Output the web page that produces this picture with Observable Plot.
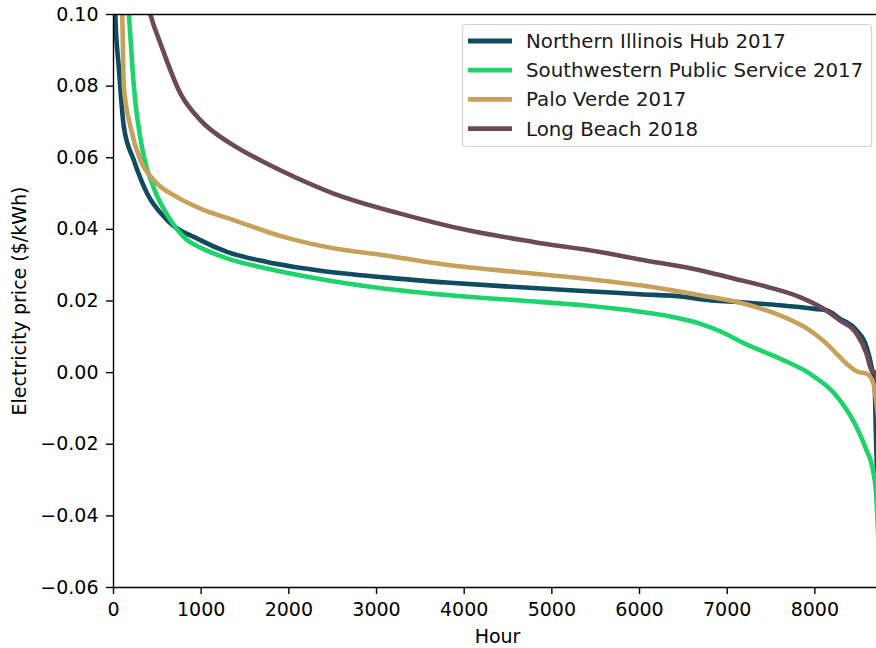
<!DOCTYPE html>
<html>
<head>
<meta charset="utf-8">
<script src="https://cdn.jsdelivr.net/npm/d3@7"></script>
<script src="https://cdn.jsdelivr.net/npm/@observablehq/plot@0.6"></script>
<style>
  html, body { margin: 0; padding: 0; background: #fff; overflow: hidden; }
  #chart { position: relative; width: 876px; height: 648px; overflow: hidden; }
  #chart svg { max-width: none !important; }
</style>
</head>
<body>
<div id="chart"></div>
<script>
// ---- Data ----
const seriesNames = ["Northern Illinois Hub 2017", "Southwestern Public Service 2017", "Palo Verde 2017", "Long Beach 2018"];
const seriesColors = ["#114b5f", "#1ed36c", "#c6a15b", "#6b4a58"];

const nihHour  = [0, 20, 60, 118, 232, 384, 612, 991, 1295, 1751, 2321, 3081, 3840, 4600, 5360, 6006, 6500, 6690, 7200, 7600, 8000, 8133, 8285, 8475, 8589, 8646, 8684, 8695, 8760];
const nihPrice = [0.13, 0.10, 0.0854, 0.0686, 0.0593, 0.050, 0.0426, 0.0370, 0.0337, 0.0309, 0.0286, 0.0266, 0.0251, 0.0239, 0.0228, 0.0219, 0.0212, 0.0205, 0.0196, 0.0188, 0.0178, 0.0174, 0.0151, 0.0118, 0.0072, 0.0016, -0.0049, -0.016, -0.05];

const spsHour  = [0, 120, 175, 232, 338, 456, 650, 840, 991, 1295, 1751, 2321, 3081, 3840, 4600, 5360, 6006, 6350, 6690, 6950, 7183, 7639, 7943, 8285, 8475, 8589, 8664, 8695, 8760];
const spsPrice = [0.15, 0.115, 0.10, 0.080, 0.0612, 0.0518, 0.0426, 0.0370, 0.0349, 0.0319, 0.0291, 0.0263, 0.0235, 0.0216, 0.0202, 0.0188, 0.0170, 0.0157, 0.0137, 0.0112, 0.0083, 0.0035, -0.0003, -0.0077, -0.0152, -0.0217, -0.0273, -0.0328, -0.07];

const pvHour  = [0, 60, 99, 118, 194, 308, 460, 725, 991, 1371, 1941, 2511, 3081, 3840, 4600, 5360, 6006, 6690, 7183, 7639, 7943, 8133, 8247, 8361, 8494, 8589, 8646, 8684, 8695, 8760];
const pvPrice = [0.13, 0.11, 0.10, 0.0798, 0.0686, 0.0593, 0.0537, 0.0490, 0.0458, 0.0426, 0.0379, 0.0347, 0.0328, 0.0300, 0.0281, 0.0263, 0.0244, 0.0216, 0.0193, 0.0156, 0.0118, 0.0081, 0.0053, 0.0025, 0.0002, -0.0003, -0.0017, -0.0050, -0.0072, -0.02];

const lbHour  = [0, 300, 422, 536, 764, 991, 1333, 1675, 1903, 2511, 3271, 4031, 4790, 5550, 6006, 6690, 7069, 7449, 7829, 8095, 8285, 8475, 8589, 8646, 8695, 8760];
const lbPrice = [0.14, 0.115, 0.10, 0.0919, 0.0779, 0.0705, 0.0640, 0.0593, 0.0565, 0.0500, 0.0444, 0.0398, 0.0365, 0.0337, 0.0316, 0.0286, 0.0263, 0.0240, 0.0211, 0.0179, 0.0146, 0.0109, 0.0053, 0.0007, -0.0002, -0.01];

const xTicks = [0, 1000, 2000, 3000, 4000, 5000, 6000, 7000, 8000];
const yTicks = [-0.06, -0.04, -0.02, 0.00, 0.02, 0.04, 0.06, 0.08, 0.10];

// ---- Build table ----
const hoursList = [nihHour, spsHour, pvHour, lbHour];
const priceList = [nihPrice, spsPrice, pvPrice, lbPrice];
const rows = [];
seriesNames.forEach((name, i) => {
  hoursList[i].forEach((h, j) => rows.push({series: name, hour: h, price: priceList[i][j]}));
});

const font = "DejaVu Sans, Liberation Sans, sans-serif";
const fmtY = d3.format(".2f");

const plot = Plot.plot({
  width: 882,
  height: 648,
  marginLeft: 113,
  marginRight: 1,
  marginTop: 14,
  marginBottom: 61,
  style: {fontFamily: font, fontSize: "19px", color: "#000", background: "#fff", overflow: "visible", maxWidth: "none"},
  x: {domain: [0, 8760], ticks: xTicks, tickSize: 7, tickPadding: 8, label: null, tickFormat: d => String(d)},
  y: {domain: [-0.06, 0.10], ticks: yTicks, tickSize: 7, tickPadding: 8, label: null, tickFormat: d => fmtY(d)},
  color: {domain: seriesNames, range: seriesColors},
  marks: [
    Plot.line(rows, {x: "hour", y: "price", z: "series", stroke: "series", strokeWidth: 4.6,
      strokeLinejoin: "round", strokeLinecap: "butt", curve: "monotone-x", clip: true}),
    Plot.ruleX([0], {stroke: "#000", strokeWidth: 1.4}),
    Plot.ruleY([-0.06], {stroke: "#000", strokeWidth: 1.4}),
    Plot.ruleY([0.10], {stroke: "#000", strokeWidth: 1.4}),
    Plot.text(["Hour"], {frameAnchor: "bottom", lineAnchor: "middle", dy: 49, fontSize: 19, fill: "#000"}),
    Plot.text(["Electricity price ($/kWh)"], {frameAnchor: "left", textAnchor: "middle", lineAnchor: "middle", dx: -94, rotate: -90, fontSize: 19, fill: "#000"})
  ]
});

d3.select(plot).style("max-width", "none");
d3.select(plot).selectAll("[aria-label$='axis'] line, [aria-label$='tick'] path").attr("stroke-width", 1.4);

// ---- Legend (drawn inside the SVG) ----
const svg = d3.select(plot);
const lg = svg.append("g").attr("font-family", font).attr("font-size", 19.8).attr("text-anchor", "start");
lg.append("rect")
  .attr("x", 462.5).attr("y", 24.5).attr("width", 409).attr("height", 122)
  .attr("rx", 3).attr("fill", "rgba(255,255,255,0.85)").attr("stroke", "#d4d4d4").attr("stroke-width", 1.2);
seriesNames.forEach((name, i) => {
  const cy = 41 + i * 29.2;
  lg.append("line").attr("x1", 468).attr("x2", 512).attr("y1", cy).attr("y2", cy)
    .attr("stroke", seriesColors[i]).attr("stroke-width", 4.8);
  lg.append("text").attr("x", 526).attr("y", cy).attr("dy", "0.35em").attr("text-anchor", "start").attr("fill", "#1a1a1a").text(name);
});

document.getElementById("chart").appendChild(plot);
</script>
</body>
</html>
